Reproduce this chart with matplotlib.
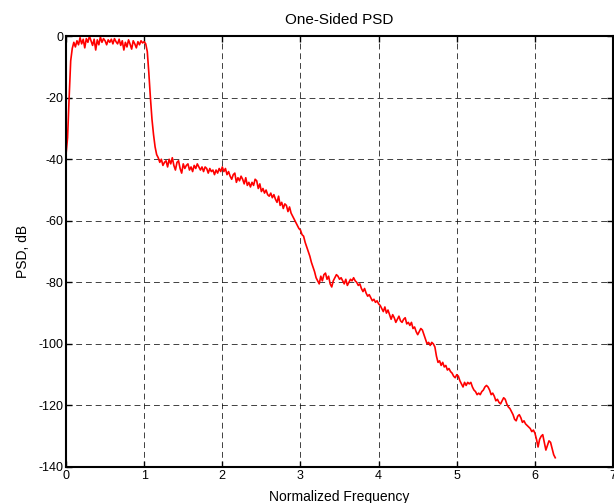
import numpy as np
import matplotlib
matplotlib.use("Agg")
import matplotlib.pyplot as plt

plt.rcParams['font.family'] = ['Liberation Sans', 'DejaVu Sans']
plt.rcParams['axes.unicode_minus'] = False

psd = [
    -38.5, -33, -20, -8, -4, -2, -3.5, -1.5, -2.8, -0.5,
    -2.5, -1, -3.8, -0.8, -2, 0, -1.5, -3, -1, -4.5,
    -1.2, -2.8, -0.3, -2, -0.8, -1.5, -2.8, -1.2, -2, -1,
    -2.5, -0.8, -1.8, -2.5, -1, -3, -1.5, -4.5, -2, -3.5,
    -1.2, -2.6, -4.2, -1.5, -2.5, -3.8, -1.8, -2.8, -1.5, -2.2,
    -1.8, -2.5, -5, -12, -20, -27, -32, -36, -38.5, -39.5,
    -41, -40, -42, -41, -40.5, -42.5, -40, -41.5, -39.5, -42,
    -43.5, -41, -40.5, -43, -44.5, -41.5, -43, -42, -41.5, -43.5,
    -42.5, -44, -42, -43, -41.5, -42.5, -43.5, -42.5, -44, -42.5,
    -43, -44.5, -43, -44, -43.5, -45, -43.5, -44.5, -43, -44,
    -42.5, -44, -43, -45, -44, -45.5, -46.5, -45, -44.5, -47.5,
    -46, -47, -45.5, -46.5, -48, -46, -48.5, -47.5, -49, -47.5,
    -48.5, -46.5, -47, -49.5, -48, -50.5, -49.5, -51, -50, -51.5,
    -52, -51, -52.5, -51.5, -53, -54, -52, -55, -54, -56,
    -54.5, -55, -57, -55.5, -57.5, -58.5, -59.5, -60.5, -61.5, -62.5,
    -63, -64.5, -65, -67, -68.5, -70, -71.5, -73.5, -75, -76.5,
    -78.5, -79.5, -80.5, -78, -79.5, -77.5, -77, -79, -78, -80.5,
    -81.5, -79.5, -78.5, -77.5, -78, -79, -78.5, -79.5, -80.5, -79,
    -81, -80, -79, -79.5, -78.5, -79.5, -80, -81, -80.5, -82,
    -83, -82, -83.5, -84.5, -84, -85, -86, -85.5, -86.5, -86,
    -87, -87.5, -88.5, -89.5, -88, -90, -89, -90.5, -92, -90.5,
    -91.5, -93, -92, -91, -92.5, -93, -92, -91.5, -93.5, -93,
    -94, -93, -95, -94.5, -96, -97, -96, -95, -95.5, -97,
    -98.5, -100, -99.5, -100.5, -99.5, -100, -101, -104, -106, -105.5,
    -107, -106, -107.5, -107, -108.5, -108, -109, -109.5, -110.5, -111,
    -110, -110.5, -112, -113, -114, -112.5, -113.5, -112.5, -113, -112.5,
    -114, -115, -115.5, -116.5, -116, -116.5, -115.5, -115, -114, -113.5,
    -114, -115, -116.5, -116, -117, -118.5, -118, -119, -119.5, -118.5,
    -117.5, -118, -119.5, -120.5, -121, -122, -123, -124.5, -125, -123.5,
    -123, -124, -125.5, -125, -126, -126.5, -127, -127.5, -128.5, -128,
    -129, -131, -133.5, -131, -130, -129.5, -132, -134.5, -133, -131.5,
    -132, -134, -136, -137,
]
freq = np.arange(len(psd)) * 0.02

xticks = [0, 1, 2, 3, 4, 5, 6, 7]
yticks = [-140, -120, -100, -80, -60, -40, -20, 0]

fig = plt.figure(figsize=(6.14, 5.03), dpi=100)
ax = fig.add_axes([0.1075, 0.0716, 0.891, 0.8565])

ax.plot(freq, psd, color="red", linewidth=1.2)

ax.set_xlim(0, 7)
ax.set_ylim(-140, 0)
ax.set_xticks(xticks)
ax.set_yticks(yticks)
ax.tick_params(direction="in", top=True, right=True, length=4, width=1,
               labelsize=9, pad=2)
for s in ax.spines.values():
    s.set_linewidth(1.5)

ax.grid(True, color="black", linestyle=(0, (6, 4)), linewidth=0.7, alpha=0.75)

ax.set_title("One-Sided PSD", fontsize=11, pad=9)
ax.set_xlabel("Normalized Frequency", fontsize=10, labelpad=6)
ax.set_ylabel("PSD, dB", fontsize=10, labelpad=6)

fig.savefig("out.png", dpi=100)
